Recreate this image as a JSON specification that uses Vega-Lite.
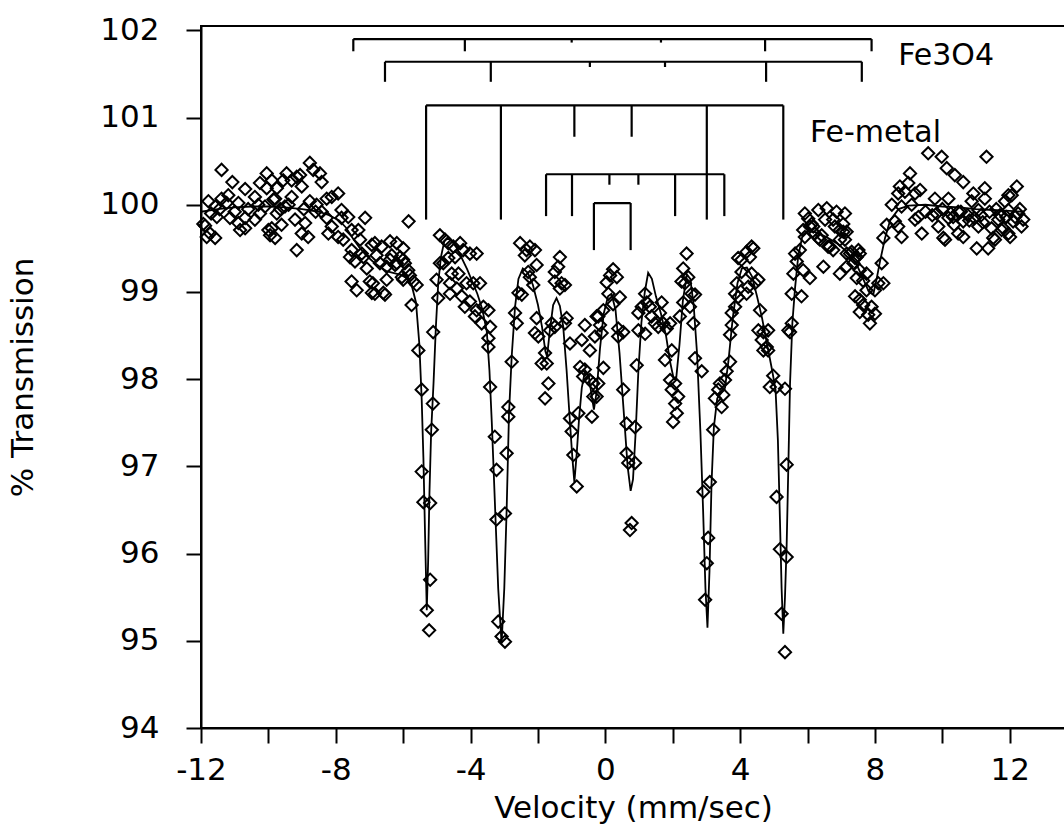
{
  "$schema": "https://vega.github.io/schema/vega-lite/v6.json",
  "width": 864,
  "height": 702,
  "autosize": {"type": "none"},
  "padding": {"left": 201, "top": 26, "right": 0, "bottom": 106},
  "background": "white",
  "config": {
    "view": {"stroke": "black", "strokeWidth": 2},
    "font": "DejaVu Sans",
    "axis": {
      "grid": false,
      "domainColor": "black",
      "domainWidth": 2,
      "tickColor": "black",
      "tickWidth": 2,
      "tickSize": 15,
      "labelFont": "DejaVu Sans",
      "labelFontSize": 31,
      "labelColor": "black",
      "titleFont": "DejaVu Sans",
      "titleFontSize": 31,
      "titleFontWeight": "normal",
      "titleColor": "black"
    }
  },
  "datasets": {
    "sticks": [
      {"v": -7.48, "v2": 7.90, "t": 101.90, "t2": 101.90},
      {"v": -7.48, "v2": -7.48, "t": 101.90, "t2": 101.76},
      {"v": -4.17, "v2": -4.17, "t": 101.90, "t2": 101.76},
      {"v": -1.0, "v2": -1.0, "t": 101.90, "t2": 101.86},
      {"v": 1.65, "v2": 1.65, "t": 101.90, "t2": 101.86},
      {"v": 4.74, "v2": 4.74, "t": 101.90, "t2": 101.76},
      {"v": 7.90, "v2": 7.90, "t": 101.90, "t2": 101.76},
      {"v": -6.54, "v2": 7.61, "t": 101.64, "t2": 101.64},
      {"v": -6.54, "v2": -6.54, "t": 101.64, "t2": 101.41},
      {"v": -3.40, "v2": -3.40, "t": 101.64, "t2": 101.41},
      {"v": -0.46, "v2": -0.46, "t": 101.64, "t2": 101.58},
      {"v": 1.77, "v2": 1.77, "t": 101.64, "t2": 101.58},
      {"v": 4.77, "v2": 4.77, "t": 101.64, "t2": 101.41},
      {"v": 7.61, "v2": 7.61, "t": 101.64, "t2": 101.41},
      {"v": -5.32, "v2": 5.28, "t": 101.14, "t2": 101.14},
      {"v": -5.32, "v2": -5.32, "t": 101.14, "t2": 99.83},
      {"v": -3.10, "v2": -3.10, "t": 101.14, "t2": 99.83},
      {"v": -0.92, "v2": -0.92, "t": 101.14, "t2": 100.78},
      {"v": 0.78, "v2": 0.78, "t": 101.14, "t2": 100.78},
      {"v": 3.01, "v2": 3.01, "t": 101.14, "t2": 99.83},
      {"v": 5.28, "v2": 5.28, "t": 101.14, "t2": 99.83},
      {"v": -1.76, "v2": 3.53, "t": 100.35, "t2": 100.35},
      {"v": -1.76, "v2": -1.76, "t": 100.35, "t2": 99.87},
      {"v": -0.99, "v2": -0.99, "t": 100.35, "t2": 99.87},
      {"v": 0.12, "v2": 0.12, "t": 100.35, "t2": 100.23},
      {"v": 0.98, "v2": 0.98, "t": 100.35, "t2": 100.23},
      {"v": 2.07, "v2": 2.07, "t": 100.35, "t2": 99.87},
      {"v": 3.53, "v2": 3.53, "t": 100.35, "t2": 99.87},
      {"v": -0.34, "v2": 0.75, "t": 100.02, "t2": 100.02},
      {"v": -0.34, "v2": -0.34, "t": 100.02, "t2": 99.48},
      {"v": 0.75, "v2": 0.75, "t": 100.02, "t2": 99.48}
    ],
    "labels": [
      {"v": 8.69, "t": 101.60, "label": "Fe3O4"},
      {"v": 6.07, "t": 100.72, "label": "Fe-metal"}
    ],
    "fit": [
      {"v": -12.0, "t": 99.92}, {"v": -11.5, "t": 99.95}, {"v": -11.0, "t": 99.97}, {"v": -10.5, "t": 99.98},
      {"v": -10.0, "t": 99.98}, {"v": -9.5, "t": 99.97}, {"v": -9.0, "t": 99.95}, {"v": -8.5, "t": 99.92},
      {"v": -8.2, "t": 99.88}, {"v": -7.9, "t": 99.82}, {"v": -7.7, "t": 99.74}, {"v": -7.5, "t": 99.62},
      {"v": -7.3, "t": 99.51}, {"v": -7.1, "t": 99.42}, {"v": -6.9, "t": 99.35}, {"v": -6.7, "t": 99.29},
      {"v": -6.5, "t": 99.24}, {"v": -6.3, "t": 99.22}, {"v": -6.1, "t": 99.2}, {"v": -5.9, "t": 99.16},
      {"v": -5.75, "t": 99.08}, {"v": -5.62, "t": 98.88}, {"v": -5.52, "t": 98.4}, {"v": -5.45, "t": 97.76},
      {"v": -5.4, "t": 97.1}, {"v": -5.35, "t": 96.2}, {"v": -5.3, "t": 95.35}, {"v": -5.26, "t": 95.9},
      {"v": -5.22, "t": 96.7}, {"v": -5.17, "t": 97.4}, {"v": -5.1, "t": 97.95}, {"v": -5.03, "t": 98.6},
      {"v": -4.96, "t": 99.1}, {"v": -4.88, "t": 99.4}, {"v": -4.78, "t": 99.58}, {"v": -4.68, "t": 99.62},
      {"v": -4.55, "t": 99.58}, {"v": -4.4, "t": 99.5}, {"v": -4.25, "t": 99.38}, {"v": -4.1, "t": 99.26},
      {"v": -3.95, "t": 99.12}, {"v": -3.8, "t": 98.98}, {"v": -3.65, "t": 98.8}, {"v": -3.52, "t": 98.55},
      {"v": -3.44, "t": 98.1}, {"v": -3.37, "t": 97.5}, {"v": -3.28, "t": 96.6}, {"v": -3.18, "t": 95.6},
      {"v": -3.08, "t": 94.97}, {"v": -3.0, "t": 95.6}, {"v": -2.93, "t": 96.5}, {"v": -2.86, "t": 97.6},
      {"v": -2.78, "t": 98.26}, {"v": -2.68, "t": 98.83}, {"v": -2.58, "t": 99.15}, {"v": -2.45, "t": 99.27},
      {"v": -2.3, "t": 99.22}, {"v": -2.15, "t": 99.08}, {"v": -2.0, "t": 98.85}, {"v": -1.88, "t": 98.6},
      {"v": -1.78, "t": 98.32}, {"v": -1.73, "t": 98.26}, {"v": -1.65, "t": 98.55}, {"v": -1.55, "t": 98.85},
      {"v": -1.45, "t": 98.93}, {"v": -1.35, "t": 98.84}, {"v": -1.25, "t": 98.6}, {"v": -1.15, "t": 98.1},
      {"v": -1.05, "t": 97.5}, {"v": -0.98, "t": 97.1}, {"v": -0.92, "t": 96.82}, {"v": -0.85, "t": 97.15},
      {"v": -0.78, "t": 97.55}, {"v": -0.7, "t": 97.9}, {"v": -0.6, "t": 98.1}, {"v": -0.5, "t": 98.05},
      {"v": -0.42, "t": 97.85}, {"v": -0.34, "t": 97.65}, {"v": -0.26, "t": 97.85}, {"v": -0.16, "t": 98.35},
      {"v": -0.05, "t": 98.75}, {"v": 0.08, "t": 98.95}, {"v": 0.18, "t": 98.98}, {"v": 0.3, "t": 98.8},
      {"v": 0.42, "t": 98.3}, {"v": 0.55, "t": 97.6}, {"v": 0.66, "t": 97.0}, {"v": 0.75, "t": 96.72},
      {"v": 0.82, "t": 96.85}, {"v": 0.9, "t": 97.4}, {"v": 0.98, "t": 98.1}, {"v": 1.07, "t": 98.65},
      {"v": 1.17, "t": 99.0}, {"v": 1.27, "t": 99.22}, {"v": 1.38, "t": 99.15}, {"v": 1.5, "t": 98.95},
      {"v": 1.65, "t": 98.75}, {"v": 1.8, "t": 98.5}, {"v": 1.92, "t": 98.2}, {"v": 2.03, "t": 98.0},
      {"v": 2.1, "t": 98.0}, {"v": 2.2, "t": 98.4}, {"v": 2.3, "t": 98.9}, {"v": 2.42, "t": 99.2},
      {"v": 2.52, "t": 99.15}, {"v": 2.62, "t": 98.85}, {"v": 2.72, "t": 98.3}, {"v": 2.82, "t": 97.4},
      {"v": 2.9, "t": 96.5}, {"v": 2.97, "t": 95.6}, {"v": 3.03, "t": 95.15}, {"v": 3.09, "t": 95.8},
      {"v": 3.15, "t": 96.8}, {"v": 3.22, "t": 97.45}, {"v": 3.32, "t": 97.78}, {"v": 3.45, "t": 97.85},
      {"v": 3.55, "t": 97.9}, {"v": 3.65, "t": 98.2}, {"v": 3.78, "t": 98.7}, {"v": 3.92, "t": 99.1},
      {"v": 4.05, "t": 99.27}, {"v": 4.2, "t": 99.28}, {"v": 4.35, "t": 99.18}, {"v": 4.5, "t": 98.95},
      {"v": 4.65, "t": 98.7}, {"v": 4.8, "t": 98.4}, {"v": 4.95, "t": 98.1}, {"v": 5.05, "t": 97.88},
      {"v": 5.12, "t": 97.3}, {"v": 5.18, "t": 96.4}, {"v": 5.23, "t": 95.6}, {"v": 5.28, "t": 95.08},
      {"v": 5.33, "t": 95.5}, {"v": 5.38, "t": 96.1}, {"v": 5.43, "t": 97.0}, {"v": 5.48, "t": 97.95},
      {"v": 5.55, "t": 98.65}, {"v": 5.63, "t": 99.05}, {"v": 5.72, "t": 99.4}, {"v": 5.85, "t": 99.65},
      {"v": 6.0, "t": 99.7}, {"v": 6.3, "t": 99.68}, {"v": 6.6, "t": 99.62}, {"v": 6.9, "t": 99.55},
      {"v": 7.2, "t": 99.45}, {"v": 7.45, "t": 99.32}, {"v": 7.65, "t": 99.15}, {"v": 7.82, "t": 99.0},
      {"v": 7.95, "t": 98.97}, {"v": 8.05, "t": 99.15}, {"v": 8.15, "t": 99.35}, {"v": 8.3, "t": 99.62},
      {"v": 8.45, "t": 99.82}, {"v": 8.7, "t": 99.95}, {"v": 9.0, "t": 99.99}, {"v": 9.5, "t": 100.0},
      {"v": 10.0, "t": 99.98}, {"v": 10.5, "t": 99.97}, {"v": 11.0, "t": 99.95}, {"v": 11.5, "t": 99.94},
      {"v": 12.0, "t": 99.93}, {"v": 12.4, "t": 99.92}
    ],
    "obs": [
      {"v":-11.93,"t":99.78},{"v":-11.88,"t":99.76},{"v":-11.83,"t":99.63},{"v":-11.78,"t":100.04},{"v":-11.73,"t":99.67},{"v":-11.7,"t":99.9},{"v":-11.58,"t":99.98},{"v":-11.58,"t":99.62},{"v":-11.53,"t":99.86},{"v":-11.45,"t":99.95},{"v":-11.39,"t":100.40},{"v":-11.39,"t":100.07},{"v":-11.24,"t":100.02},{"v":-11.19,"t":100.11},{"v":-11.14,"t":99.85},{"v":-11.07,"t":100.26},{"v":-11.0,"t":99.92},{"v":-10.89,"t":100.02},{"v":-10.89,"t":99.79},{"v":-10.84,"t":99.71},{"v":-10.69,"t":100.18},{"v":-10.69,"t":99.73},{"v":-10.69,"t":99.85},{"v":-10.6,"t":99.95},{"v":-10.40,"t":100.09},{"v":-10.40,"t":99.83},{"v":-10.3,"t":100.0},{"v":-10.25,"t":100.25},{"v":-10.25,"t":99.90},{"v":-10.10,"t":99.98},{"v":-10.05,"t":100.36},{"v":-10.05,"t":100.19},{"v":-10.00,"t":99.71},{"v":-9.95,"t":99.65},{"v":-9.90,"t":100.28},{"v":-9.90,"t":99.73},{"v":-9.85,"t":100.06},{"v":-9.80,"t":100.07},{"v":-9.80,"t":99.62},{"v":-9.75,"t":100.19},{"v":-9.75,"t":99.90},{"v":-9.65,"t":99.95},{"v":-9.61,"t":99.77},{"v":-9.56,"t":100.28},{"v":-9.51,"t":99.98},{"v":-9.46,"t":100.36},{"v":-9.4,"t":100.0},{"v":-9.31,"t":100.28},{"v":-9.31,"t":100.09},{"v":-9.21,"t":99.83},{"v":-9.16,"t":100.32},{"v":-9.16,"t":99.48},{"v":-9.06,"t":100.34},{"v":-9.01,"t":100.21},{"v":-9.01,"t":99.67},{"v":-8.95,"t":99.95},{"v":-8.91,"t":99.79},{"v":-8.82,"t":99.63},{"v":-8.77,"t":100.48},{"v":-8.77,"t":100.04},{"v":-8.67,"t":100.40},{"v":-8.6,"t":99.92},{"v":-8.57,"t":100.00},{"v":-8.47,"t":100.36},{"v":-8.42,"t":100.26},{"v":-8.42,"t":99.92},{"v":-8.27,"t":100.07},{"v":-8.27,"t":99.85},{"v":-8.22,"t":99.67},{"v":-8.12,"t":100.09},{"v":-8.12,"t":99.75},{"v":-7.93,"t":100.13},{"v":-7.93,"t":99.63},{"v":-7.83,"t":99.94},{"v":-7.83,"t":99.85},{"v":-7.78,"t":99.60},{"v":-7.63,"t":99.86},{"v":-7.58,"t":99.40},{"v":-7.53,"t":99.71},{"v":-7.53,"t":99.48},{"v":-7.53,"t":99.12},{"v":-7.43,"t":99.35},{"v":-7.38,"t":99.02},{"v":-7.33,"t":99.71},{"v":-7.28,"t":99.60},{"v":-7.23,"t":99.44},{"v":-7.18,"t":99.40},{"v":-7.13,"t":99.85},{"v":-7.08,"t":99.27},{"v":-6.99,"t":99.12},{"v":-6.93,"t":98.99},{"v":-6.93,"t":99.54},{"v":-6.90,"t":99.10},{"v":-6.84,"t":99.56},{"v":-6.84,"t":98.98},{"v":-6.79,"t":99.42},{"v":-6.69,"t":99.33},{"v":-6.64,"t":99.52},{"v":-6.59,"t":98.99},{"v":-6.54,"t":98.97},{"v":-6.49,"t":99.14},{"v":-6.49,"t":99.29},{"v":-6.39,"t":99.58},{"v":-6.39,"t":99.37},{"v":-6.34,"t":99.42},{"v":-6.24,"t":99.31},{"v":-6.19,"t":99.56},{"v":-6.19,"t":99.33},{"v":-6.09,"t":99.40},{"v":-6.04,"t":99.17},{"v":-6.00,"t":99.50},{"v":-6.00,"t":99.37},{"v":-6.00,"t":99.14},{"v":-5.95,"t":99.33},{"v":-5.85,"t":99.25},{"v":-5.84,"t":99.81},{"v":-5.80,"t":99.19},{"v":-5.75,"t":98.85},{"v":-5.70,"t":99.12},{"v":-5.60,"t":99.08},{"v":-5.55,"t":98.33},{"v":-5.45,"t":97.88},{"v":-5.45,"t":96.94},{"v":-5.40,"t":96.59},{"v":-5.30,"t":95.35},{"v":-5.23,"t":95.12},{"v":-5.20,"t":95.70},{"v":-5.20,"t":96.58},{"v":-5.15,"t":97.42},{"v":-5.12,"t":97.72},{"v":-5.11,"t":98.54},{"v":-5.01,"t":99.14},{"v":-4.96,"t":98.93},{"v":-4.91,"t":99.33},{"v":-4.91,"t":99.65},{"v":-4.81,"t":99.33},{"v":-4.76,"t":99.60},{"v":-4.66,"t":99.56},{"v":-4.66,"t":99.39},{"v":-4.61,"t":99.10},{"v":-4.61,"t":98.98},{"v":-4.56,"t":99.21},{"v":-4.51,"t":99.52},{"v":-4.46,"t":99.40},{"v":-4.41,"t":99.04},{"v":-4.36,"t":99.21},{"v":-4.31,"t":99.56},{"v":-4.26,"t":98.95},{"v":-4.22,"t":99.48},{"v":-4.17,"t":98.83},{"v":-4.12,"t":99.10},{"v":-4.02,"t":99.44},{"v":-4.02,"t":98.89},{"v":-3.92,"t":99.10},{"v":-3.87,"t":98.72},{"v":-3.82,"t":99.44},{"v":-3.82,"t":98.79},{"v":-3.72,"t":99.10},{"v":-3.67,"t":98.64},{"v":-3.62,"t":98.83},{"v":-3.47,"t":98.79},{"v":-3.47,"t":98.47},{"v":-3.47,"t":98.37},{"v":-3.42,"t":98.60},{"v":-3.42,"t":97.91},{"v":-3.28,"t":97.34},{"v":-3.23,"t":96.96},{"v":-3.23,"t":96.39},{"v":-3.18,"t":95.22},{"v":-3.08,"t":95.05},{"v":-2.98,"t":94.99},{"v":-2.98,"t":96.46},{"v":-2.93,"t":97.15},{"v":-2.88,"t":97.57},{"v":-2.88,"t":97.68},{"v":-2.78,"t":98.20},{"v":-2.68,"t":98.76},{"v":-2.63,"t":98.64},{"v":-2.58,"t":98.99},{"v":-2.53,"t":99.56},{"v":-2.48,"t":98.97},{"v":-2.39,"t":99.42},{"v":-2.34,"t":99.48},{"v":-2.29,"t":99.23},{"v":-2.24,"t":99.52},{"v":-2.24,"t":99.17},{"v":-2.14,"t":99.08},{"v":-2.09,"t":99.48},{"v":-2.09,"t":98.53},{"v":-2.04,"t":99.31},{"v":-2.04,"t":98.70},{"v":-1.99,"t":98.49},{"v":-1.89,"t":98.18},{"v":-1.79,"t":98.30},{"v":-1.79,"t":97.78},{"v":-1.74,"t":98.18},{"v":-1.69,"t":97.95},{"v":-1.64,"t":98.56},{"v":-1.59,"t":98.64},{"v":-1.50,"t":98.60},{"v":-1.50,"t":99.23},{"v":-1.50,"t":99.12},{"v":-1.40,"t":99.29},{"v":-1.35,"t":99.40},{"v":-1.35,"t":99.04},{"v":-1.30,"t":99.10},{"v":-1.20,"t":99.08},{"v":-1.20,"t":98.64},{"v":-1.15,"t":98.70},{"v":-1.05,"t":98.41},{"v":-1.05,"t":97.55},{"v":-1.00,"t":97.40},{"v":-0.95,"t":97.13},{"v":-0.85,"t":96.77},{"v":-0.80,"t":97.61},{"v":-0.75,"t":98.14},{"v":-0.70,"t":98.45},{"v":-0.66,"t":98.03},{"v":-0.61,"t":98.62},{"v":-0.61,"t":98.11},{"v":-0.46,"t":98.33},{"v":-0.46,"t":97.99},{"v":-0.40,"t":97.57},{"v":-0.36,"t":97.95},{"v":-0.36,"t":97.80},{"v":-0.31,"t":98.49},{"v":-0.26,"t":98.72},{"v":-0.26,"t":97.80},{"v":-0.21,"t":98.72},{"v":-0.21,"t":97.95},{"v":-0.16,"t":98.62},{"v":-0.11,"t":98.53},{"v":-0.06,"t":98.79},{"v":-0.06,"t":98.13},{"v":0.04,"t":99.11},{"v":0.09,"t":98.98},{"v":0.14,"t":99.19},{"v":0.23,"t":99.26},{"v":0.23,"t":98.86},{"v":0.34,"t":99.17},{"v":0.38,"t":98.58},{"v":0.38,"t":98.49},{"v":0.43,"t":98.94},{"v":0.53,"t":98.54},{"v":0.53,"t":97.88},{"v":0.63,"t":97.49},{"v":0.63,"t":97.15},{"v":0.68,"t":97.04},{"v":0.73,"t":96.27},{"v":0.78,"t":96.35},{"v":0.88,"t":97.45},{"v":0.88,"t":97.04},{"v":0.93,"t":98.16},{"v":0.98,"t":98.56},{"v":0.98,"t":98.76},{"v":1.08,"t":98.83},{"v":1.18,"t":98.98},{"v":1.18,"t":98.52},{"v":1.23,"t":98.88},{"v":1.32,"t":98.83},{"v":1.37,"t":98.72},{"v":1.47,"t":98.64},{"v":1.57,"t":98.60},{"v":1.62,"t":98.76},{"v":1.67,"t":98.88},{"v":1.72,"t":98.64},{"v":1.77,"t":98.22},{"v":1.82,"t":98.58},{"v":1.92,"t":98.64},{"v":1.92,"t":97.99},{"v":1.97,"t":98.33},{"v":1.97,"t":97.88},{"v":2.01,"t":97.51},{"v":2.07,"t":97.95},{"v":2.07,"t":97.72},{"v":2.12,"t":97.61},{"v":2.16,"t":97.80},{"v":2.21,"t":98.72},{"v":2.26,"t":99.12},{"v":2.31,"t":98.88},{"v":2.31,"t":99.27},{"v":2.36,"t":99.10},{"v":2.41,"t":99.44},{"v":2.46,"t":99.17},{"v":2.51,"t":98.83},{"v":2.56,"t":98.98},{"v":2.61,"t":98.64},{"v":2.66,"t":98.97},{"v":2.66,"t":98.24},{"v":2.86,"t":98.09},{"v":2.91,"t":96.71},{"v":2.96,"t":95.47},{"v":3.01,"t":95.89},{"v":3.05,"t":96.18},{"v":3.10,"t":96.82},{"v":3.20,"t":97.42},{"v":3.25,"t":97.78},{"v":3.35,"t":97.88},{"v":3.40,"t":97.95},{"v":3.45,"t":97.68},{"v":3.50,"t":97.82},{"v":3.55,"t":97.99},{"v":3.60,"t":98.09},{"v":3.70,"t":98.20},{"v":3.70,"t":98.51},{"v":3.75,"t":98.62},{"v":3.75,"t":98.76},{"v":3.85,"t":98.83},{"v":3.85,"t":98.98},{"v":3.90,"t":99.10},{"v":3.94,"t":98.94},{"v":3.94,"t":99.39},{"v":4.04,"t":99.23},{"v":4.04,"t":99.37},{"v":4.19,"t":99.46},{"v":4.19,"t":98.98},{"v":4.24,"t":99.06},{"v":4.29,"t":99.40},{"v":4.34,"t":99.52},{"v":4.34,"t":99.21},{"v":4.39,"t":99.50},{"v":4.44,"t":99.10},{"v":4.54,"t":99.14},{"v":4.54,"t":98.56},{"v":4.59,"t":98.79},{"v":4.64,"t":98.45},{"v":4.69,"t":98.54},{"v":4.69,"t":98.33},{"v":4.79,"t":98.37},{"v":4.83,"t":98.56},{"v":4.83,"t":98.33},{"v":4.88,"t":97.91},{"v":4.98,"t":98.04},{"v":5.08,"t":97.91},{"v":5.08,"t":96.65},{"v":5.18,"t":96.05},{"v":5.23,"t":95.31},{"v":5.33,"t":94.87},{"v":5.33,"t":97.89},{"v":5.38,"t":97.02},{"v":5.38,"t":95.96},{"v":5.43,"t":98.56},{"v":5.48,"t":98.54},{"v":5.53,"t":98.98},{"v":5.53,"t":98.64},{"v":5.58,"t":99.21},{"v":5.63,"t":99.44},{"v":5.68,"t":99.35},{"v":5.77,"t":99.48},{"v":5.82,"t":98.95},{"v":5.87,"t":99.71},{"v":5.87,"t":99.25},{"v":5.92,"t":99.90},{"v":5.92,"t":99.63},{"v":6.02,"t":99.84},{"v":6.07,"t":99.75},{"v":6.07,"t":99.16},{"v":6.12,"t":99.78},{"v":6.17,"t":99.75},{"v":6.22,"t":99.67},{"v":6.32,"t":99.94},{"v":6.32,"t":99.62},{"v":6.37,"t":99.60},{"v":6.42,"t":99.65},{"v":6.47,"t":99.29},{"v":6.52,"t":99.83},{"v":6.57,"t":99.96},{"v":6.61,"t":99.52},{"v":6.66,"t":99.52},{"v":6.76,"t":99.83},{"v":6.76,"t":99.48},{"v":6.81,"t":99.75},{"v":6.86,"t":99.92},{"v":6.96,"t":99.71},{"v":6.96,"t":99.60},{"v":6.96,"t":99.21},{"v":7.06,"t":99.78},{"v":7.06,"t":99.69},{"v":7.11,"t":99.90},{"v":7.11,"t":99.60},{"v":7.16,"t":99.69},{"v":7.16,"t":99.44},{"v":7.16,"t":99.29},{"v":7.26,"t":99.44},{"v":7.31,"t":99.46},{"v":7.36,"t":99.33},{"v":7.41,"t":99.39},{"v":7.41,"t":98.95},{"v":7.46,"t":99.40},{"v":7.46,"t":99.16},{"v":7.51,"t":99.48},{"v":7.55,"t":99.25},{"v":7.55,"t":99.44},{"v":7.55,"t":98.91},{"v":7.55,"t":98.77},{"v":7.65,"t":99.13},{"v":7.65,"t":98.85},{"v":7.75,"t":99.21},{"v":7.75,"t":99.02},{"v":7.80,"t":98.74},{"v":7.85,"t":98.64},{"v":7.90,"t":98.83},{"v":8.00,"t":99.02},{"v":8.00,"t":98.75},{"v":8.10,"t":99.10},{"v":8.20,"t":99.33},{"v":8.25,"t":99.10},{"v":8.25,"t":99.62},{"v":8.35,"t":99.77},{"v":8.50,"t":100.00},{"v":8.59,"t":99.81},{"v":8.69,"t":99.75},{"v":8.69,"t":100.13},{"v":8.74,"t":100.21},{"v":8.79,"t":99.63},{"v":8.79,"t":99.98},{"v":8.89,"t":100.15},{"v":8.99,"t":100.25},{"v":9.04,"t":100.36},{"v":9.09,"t":100.00},{"v":9.19,"t":100.13},{"v":9.19,"t":99.83},{"v":9.29,"t":99.86},{"v":9.34,"t":100.17},{"v":9.39,"t":99.67},{"v":9.5,"t":99.92},{"v":9.58,"t":100.59},{"v":9.7,"t":99.88},{"v":9.78,"t":100.07},{"v":9.83,"t":99.90},{"v":9.88,"t":99.75},{"v":9.98,"t":100.55},{"v":10.0,"t":99.95},{"v":10.03,"t":99.62},{"v":10.08,"t":99.60},{"v":10.13,"t":100.42},{"v":10.18,"t":100.07},{"v":10.18,"t":99.85},{"v":10.25,"t":99.9},{"v":10.32,"t":99.86},{"v":10.35,"t":99.77},{"v":10.37,"t":100.34},{"v":10.47,"t":99.92},{"v":10.47,"t":99.67},{"v":10.55,"t":99.92},{"v":10.62,"t":100.26},{"v":10.62,"t":99.81},{"v":10.62,"t":99.63},{"v":10.75,"t":99.88},{"v":10.8,"t":99.82},{"v":10.87,"t":100.04},{"v":10.92,"t":100.13},{"v":10.95,"t":99.85},{"v":11.02,"t":99.50},{"v":11.07,"t":99.94},{"v":11.07,"t":99.75},{"v":11.15,"t":99.88},{"v":11.2,"t":99.8},{"v":11.26,"t":100.19},{"v":11.26,"t":100.07},{"v":11.31,"t":100.55},{"v":11.36,"t":99.50},{"v":11.4,"t":99.92},{"v":11.46,"t":99.73},{"v":11.51,"t":99.62},{"v":11.56,"t":99.60},{"v":11.6,"t":99.95},{"v":11.66,"t":99.83},{"v":11.71,"t":99.88},{"v":11.76,"t":99.71},{"v":11.81,"t":99.73},{"v":11.86,"t":100.04},{"v":11.9,"t":99.86},{"v":11.96,"t":100.11},{"v":11.96,"t":99.67},{"v":11.96,"t":99.94},{"v":12.01,"t":99.63},{"v":12.06,"t":100.11},{"v":12.10,"t":99.81},{"v":12.16,"t":99.86},{"v":12.21,"t":100.21},{"v":12.25,"t":99.90},{"v":12.3,"t":99.95},{"v":12.35,"t":99.75},{"v":12.40,"t":99.83}
    ]
  },
  "layer": [
    {
      "data": {"name": "sticks"},
      "mark": {"type": "rule", "color": "black", "strokeWidth": 2.2},
      "encoding": {
        "x": {
          "field": "v", "type": "quantitative",
          "scale": {"domain": [-12, 13.64], "nice": false, "zero": false},
          "axis": {
            "values": [-12, -10, -8, -6, -4, -2, 0, 2, 4, 6, 8, 10, 12],
            "labelExpr": "datum.value % 4 === 0 ? replace(datum.label, '\u2212', '-') : ''",
            "title": "Velocity (mm/sec)",
            "labelPadding": 12,
            "titlePadding": 8,
            "labelFlush": false,
            "labelOverlap": false
          }
        },
        "x2": {"field": "v2"},
        "y": {
          "field": "t", "type": "quantitative",
          "scale": {"domain": [94, 102.05], "nice": false, "zero": false},
          "axis": {
            "values": [94, 95, 96, 97, 98, 99, 100, 101, 102],
            "format": "d",
            "title": "% Transmission",
            "labelPadding": 27,
            "titlePadding": 60,
            "labelFlush": false,
            "labelOverlap": false
          }
        },
        "y2": {"field": "t2"}
      }
    },
    {
      "data": {"name": "fit"},
      "mark": {"type": "line", "color": "black", "strokeWidth": 1.8},
      "encoding": {
        "x": {"field": "v", "type": "quantitative"},
        "y": {"field": "t", "type": "quantitative"}
      }
    },
    {
      "data": {"name": "obs"},
      "mark": {"type": "point", "shape": "diamond", "filled": false, "color": "black", "size": 150, "strokeWidth": 2, "opacity": 1},
      "encoding": {
        "x": {"field": "v", "type": "quantitative"},
        "y": {"field": "t", "type": "quantitative"}
      }
    },
    {
      "data": {"name": "labels"},
      "mark": {"type": "text", "align": "left", "baseline": "alphabetic", "font": "DejaVu Sans", "fontSize": 30, "color": "black"},
      "encoding": {
        "x": {"field": "v", "type": "quantitative"},
        "y": {"field": "t", "type": "quantitative"},
        "text": {"field": "label"}
      }
    }
  ]
}
